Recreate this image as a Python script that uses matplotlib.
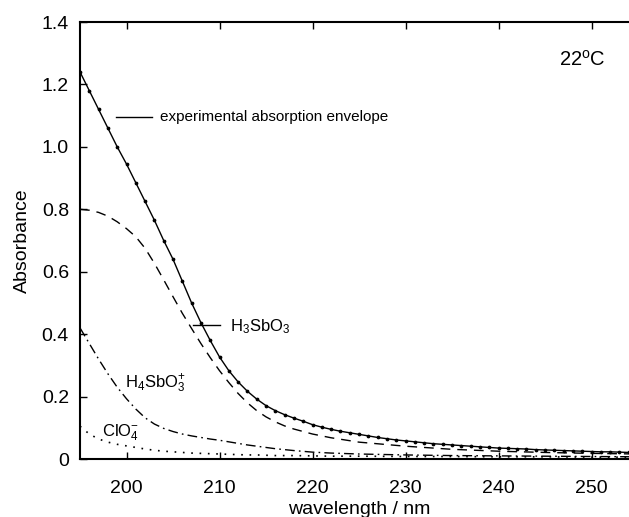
import matplotlib
matplotlib.use("Agg")
import matplotlib.pyplot as plt
import numpy as np

# wavelength grid (nm) and read-off absorbances
wl_env = np.arange(195, 255)
envelope = [
    1.24, 1.18, 1.12, 1.06, 1.00, 0.945, 0.885, 0.825, 0.765, 0.70,
    0.64, 0.57, 0.50, 0.437, 0.38, 0.327, 0.283, 0.247, 0.217, 0.192,
    0.171, 0.155, 0.142, 0.131, 0.121, 0.110, 0.102, 0.095, 0.089, 0.084,
    0.079, 0.074, 0.069, 0.065, 0.061, 0.058, 0.055, 0.052, 0.049, 0.047,
    0.045, 0.043, 0.041, 0.039, 0.037, 0.035, 0.034, 0.033, 0.032, 0.030,
    0.029, 0.028, 0.027, 0.026, 0.025, 0.024, 0.023, 0.023, 0.022, 0.021,
]

wl_comp = [195, 196, 197, 198, 199, 200, 201, 202, 203, 204, 205, 206, 207,
           208, 209, 210, 211, 212, 213, 214, 215, 216, 217, 218, 220, 222,
           225, 230, 235, 240, 245, 250, 255]
h3sbo3 = [0.80, 0.797, 0.79, 0.778, 0.76, 0.738, 0.712, 0.675, 0.627, 0.574,
          0.52, 0.467, 0.418, 0.37, 0.325, 0.283, 0.245, 0.21, 0.18, 0.155,
          0.135, 0.119, 0.106, 0.096, 0.08, 0.068, 0.054, 0.041, 0.031, 0.025,
          0.021, 0.018, 0.016]
h4sbo3 = [0.42, 0.37, 0.32, 0.273, 0.23, 0.193, 0.16, 0.132, 0.112, 0.098,
          0.088, 0.08, 0.074, 0.069, 0.064, 0.06, 0.055, 0.05, 0.045, 0.041,
          0.037, 0.033, 0.03, 0.027, 0.022, 0.019, 0.016, 0.013, 0.011, 0.01,
          0.009, 0.008, 0.007]
clo4 = [0.105, 0.08, 0.064, 0.054, 0.047, 0.042, 0.037, 0.032, 0.028, 0.025,
        0.023, 0.021, 0.019, 0.018, 0.017, 0.016, 0.015, 0.014, 0.013, 0.013,
        0.012, 0.011, 0.011, 0.011, 0.01, 0.009, 0.009, 0.008, 0.008, 0.007,
        0.007, 0.006, 0.006]

x_ticks = [200, 210, 220, 230, 240, 250]
y_ticks = [0, 0.2, 0.4, 0.6, 0.8, 1.0, 1.2, 1.4]
y_tick_labels = ["0", "0.2", "0.4", "0.6", "0.8", "1.0", "1.2", "1.4"]

plt.rcParams["font.family"] = ["Liberation Sans", "DejaVu Sans"]
plt.rcParams["mathtext.fontset"] = "custom"
plt.rcParams["mathtext.rm"] = "Liberation Sans"
plt.rcParams["mathtext.it"] = "Liberation Sans:italic"

fig = plt.figure(figsize=(6.29, 5.17), dpi=100)
ax = fig.add_axes([80 / 629, 58 / 517, 558 / 629, 437 / 517])

ax.plot(wl_env, envelope, color="black", lw=1.0, marker="o", markersize=1.7)
ax.plot(wl_comp, h3sbo3, color="black", lw=1.0, linestyle=(0, (7, 5)))
ax.plot(wl_comp, h4sbo3, color="black", lw=1.0, linestyle=(0, (7, 3, 1.2, 3)))
ax.plot(wl_comp, clo4, color="black", lw=1.2, linestyle=(0, (1, 4)))

ax.set_xlim(195, 255)
ax.set_ylim(0, 1.4)
ax.set_xticks(x_ticks)
ax.set_yticks(y_ticks)
ax.set_yticklabels(y_tick_labels)
ax.tick_params(direction="in", top=True, right=False, length=5, width=1,
               labelsize=14)
ax.tick_params(axis="x", pad=15)
ax.tick_params(axis="y", pad=8)
for side in ["left", "bottom", "top"]:
    ax.spines[side].set_linewidth(1.5)

ax.set_xlabel("wavelength / nm", fontsize=14, labelpad=3)
ax.set_ylabel("Absorbance", fontsize=14, labelpad=8)

# annotations
ax.plot([198.85, 202.7], [1.095, 1.095], color="black", lw=1.0)
ax.text(203.6, 1.097, "experimental absorption envelope", fontsize=11,
        va="center")
ax.plot([207.1, 210.0], [0.43, 0.43], color="black", lw=1.0)
ax.text(211.1, 0.425, r"H$_3$SbO$_3$", fontsize=12, va="center")
ax.text(199.8, 0.24, r"H$_4$SbO$_3^{+}$", fontsize=12, va="center")
ax.text(197.4, 0.085, r"ClO$_4^{-}$", fontsize=12, va="center")
ax.text(249, 1.28, r"22$^{\rm o}$C", fontsize=14.5, ha="center", va="center")

fig.savefig("out.png", dpi=100)
